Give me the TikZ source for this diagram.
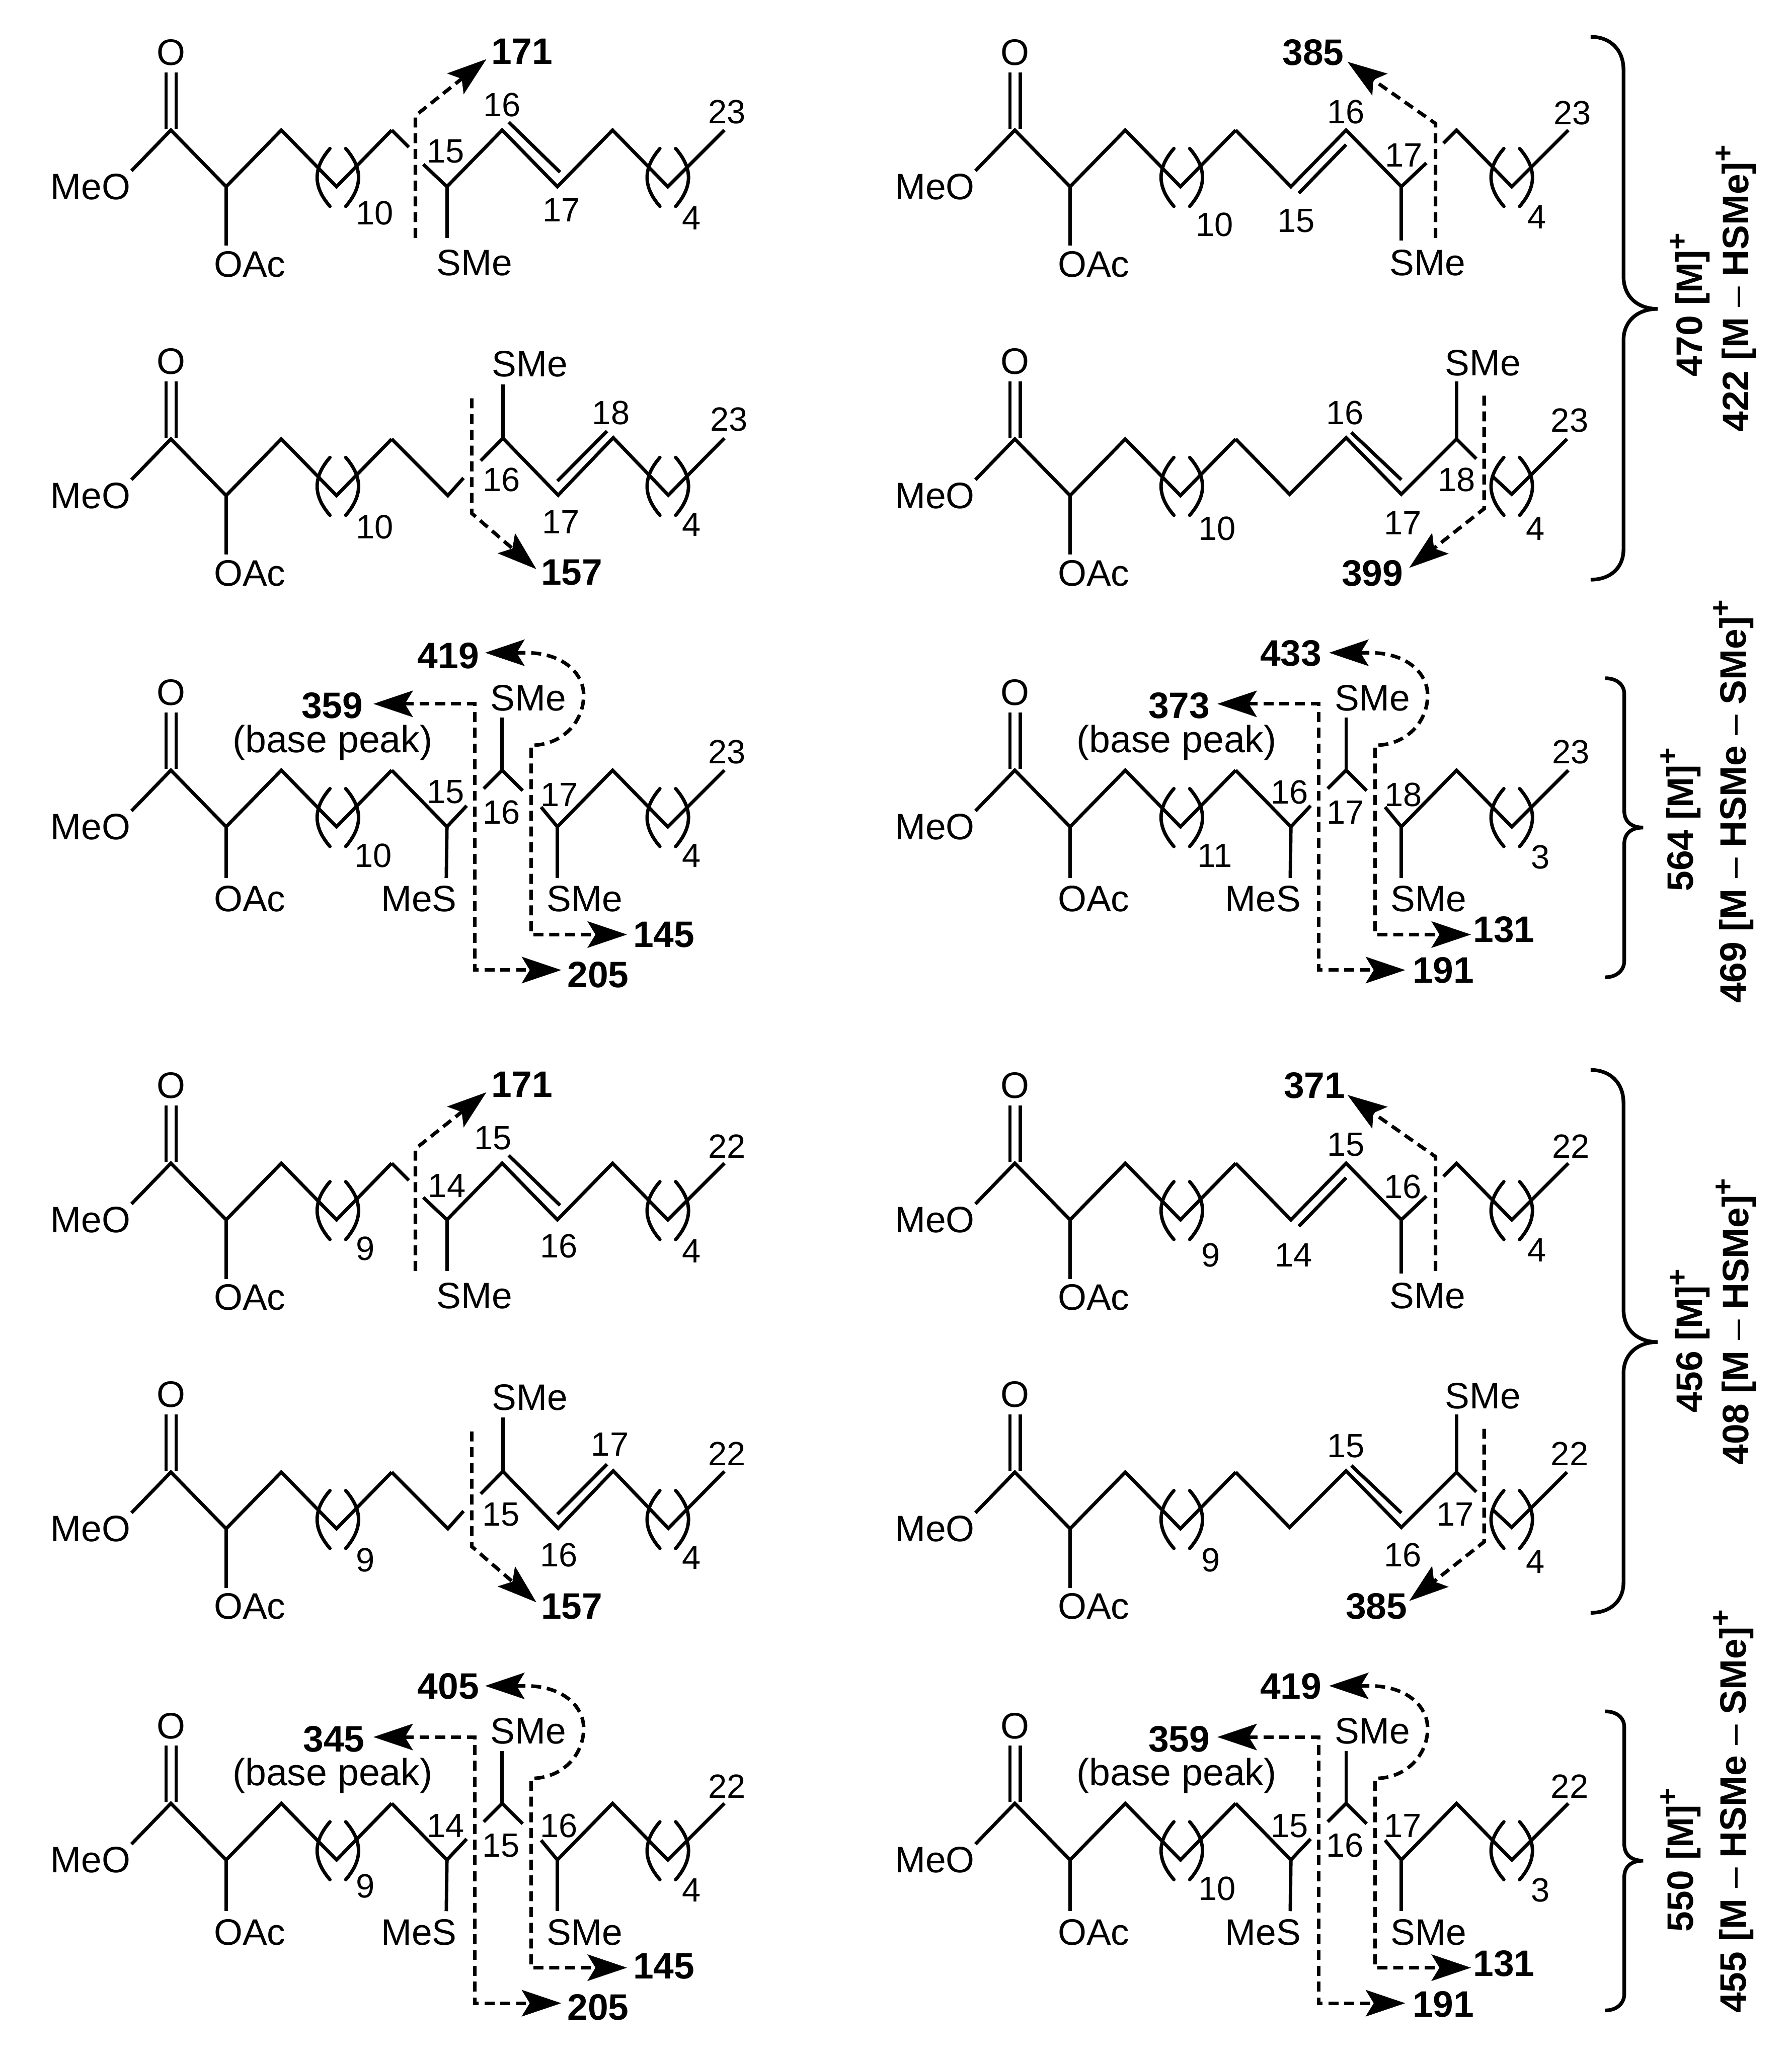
\documentclass[tikz,border=0pt]{standalone}
\usepackage{fontspec}
\setmainfont{Liberation Sans}
\usetikzlibrary{arrows.meta}
\newcounter{nn}
\newcommand\lab[4]{\stepcounter{nn}\node[#1] (n\arabic{nn}) at (#2,#3) {#4};}
\newcommand\brk[1]{\draw[bond,line cap=round] (#1-6,113) .. controls (#1-19,128) and (#1-19,142) .. (#1-6,157);
 \draw[bond,line cap=round] (#1+6,113) .. controls (#1+19,128) and (#1+19,142) .. (#1+6,157);}
% common part: #1 end of OAc bond, #2 height of OAc text
\newcommand\base[2]{%
 \lab{lbl}{130}{40}{O}
 \lab{lbl}{69}{142}{MeO}
 \lab{lbl}{190}{#2}{OAc}
 \draw[bond] (126.3,55) -- (126.3,98);
 \draw[bond] (134,55) -- (134,98);
 \draw[bond] (100,130) -- (130,99) -- (172,142) -- (214,99) -- (256,142) -- (298,99);
 \draw[bond] (172,142) -- (172,#1);
 \brk{257}\brk{508}}
\newcommand\skelA{%
 \draw[bond] (298,99) -- (311,112);
 \draw[bond] (322,125) -- (340,142) -- (382,99) -- (424,142) -- (466,99) -- (508,142) -- (551,99);
 \draw[bond] (387,93) -- (426,131);
 \draw[bond] (340,142) -- (340,181);
 \draw[dsh,-{Stealth[length=15pt,width=10pt,inset=3pt]}] (316,181) -- (316,88) -- (370,45);}
\newcommand\skelB{%
 \draw[bond] (298,99) -- (340,142) -- (382,99) -- (424,142) -- (443,124);
 \draw[bond] (456,109) -- (466,99) -- (508,142) -- (551,99);
 \draw[bond] (346,147) -- (382,110);
 \draw[bond] (424,142) -- (424,183);
 \draw[dsh,-{Stealth[length=15pt,width=10pt,inset=3pt]}] (450,181) -- (450,94) -- (383,47);}
\newcommand\skelC{%
 \draw[bond] (298,99) -- (340.7,142) -- (352.6,128.6);
 \draw[bond] (365.7,115.5) -- (382.6,98.4) -- (424.6,141.7) -- (466.5,98) -- (508.4,141.7) -- (551,98.4);
 \draw[bond] (424,131) -- (461.8,93);
 \draw[bond] (382.6,98.4) -- (382.6,57.4);
 \draw[dsh,-{Stealth[length=15pt,width=10pt,inset=3pt]}] (358.8,68) -- (358.8,155.5) -- (408,198);}
\newcommand\skelD{%
 \draw[bond] (298,99) -- (339,141) -- (382,98) -- (424,141) -- (466,99) -- (481,114);
 \draw[bond] (494,128) -- (508,141) -- (550,99);
 \draw[bond] (386,94) -- (424,130);
 \draw[bond] (466,99) -- (466,55);
 \draw[dsh,-{Stealth[length=15pt,width=10pt,inset=3pt]}] (487,66) -- (487,152) -- (430,197);}
\newcommand\skelE{%
 \draw[bond] (298,99) -- (340,142) -- (355,126);
 \draw[bond] (368,113) -- (382,99) -- (397.6,114.5);
 \draw[bond] (411.6,127) -- (424,142) -- (466,99) -- (508,142) -- (551,99);
 \draw[bond] (382,99) -- (382,59);
 \draw[bond] (340,142) -- (339.5,181);
 \draw[bond] (424,142) -- (424,181);
 \draw[dsh,{Stealth[length=15pt,width=10pt,inset=3pt]}-{Stealth[length=15pt,width=10pt,inset=3pt]}] (284,48.5) -- (361,48.5) -- (361,251) -- (427,251);
 \draw[dsh,{Stealth[length=15pt,width=10pt,inset=3pt]}-{Stealth[length=15pt,width=10pt,inset=3pt]}] (369,9.6) -- (400,9.6) .. controls (428,9.6) and (444,25) .. (444,42) .. controls (444,62) and (428,80) .. (404,80) -- (404,224) -- (477,224);
 \lab{lbl}{402}{44}{SMe}
 \lab{lbl}{318.7}{197}{MeS}
 \lab{lbl}{444.7}{197}{SMe}
 \lab{basepk}{253}{78}{(base peak)}}
\newcommand\braceL{\draw[brc] (1210,28) .. controls (1225,28) and (1235,38) .. (1235,53) -- (1235,210) .. controls (1235,226) and (1246,235) .. (1261,235) .. controls (1246,235) and (1235,244) .. (1235,259) -- (1235,418) .. controls (1235,432) and (1225,441) .. (1210,441);}
\newcommand\braceS{\draw[brc] (1221,516) .. controls (1230,516) and (1235.6,521) .. (1235.6,528) -- (1235.6,617) .. controls (1235.6,625) and (1241,629.6) .. (1250,629.6) .. controls (1241,629.6) and (1235.6,634) .. (1235.6,642) -- (1235.6,731) .. controls (1235.6,738) and (1230,743.5) .. (1221,743.5);}
\newcommand\pl{\raisebox{.42em}{\fontsize{11}{11}\selectfont +}}
\newcommand\nd{{\mdseries –}}
\begin{document}
\begin{tikzpicture}[x=.5pt,y=-.5pt,
 bond/.style={line width=1.3pt,line cap=butt,line join=miter},
 dsh/.style={line width=1.35pt,dash pattern=on 3.8pt off 2.2pt,line join=miter},
 brc/.style={line width=1.4pt},
 lbl/.style={inner sep=0pt,font=\fontsize{14}{16}\selectfont},
 basepk/.style={inner sep=0pt,font=\fontsize{14.4}{16}\selectfont},
 num/.style={inner sep=0pt,font=\fontsize{12.8}{15}\selectfont},
 ion/.style={inner sep=0pt,font=\fontsize{14}{16}\selectfont\bfseries},
 side/.style={inner sep=0pt,rotate=90,anchor=base west,font=\fontsize{14}{16}\selectfont\bfseries}]
\useasboundingbox (0,0) rectangle (1363,1568);
% row 1 left
\begin{scope}
 \base{187}{201}\skelA
 \lab{num}{339}{115}{15}\lab{num}{382}{80}{16}\lab{num}{427}{160}{17}\lab{num}{553}{85}{23}
 \lab{num}{285}{162}{10}\lab{num}{526}{166}{4}
 \lab{lbl}{361}{200}{SMe}\lab{ion}{397}{39}{171}
\end{scope}
% row 1 right
\begin{scope}[shift={(642,0)}]
 \base{187}{201}\skelB
 \lab{num}{344}{168}{15}\lab{num}{382}{85}{16}\lab{num}{426}{118}{17}\lab{num}{554}{86}{23}
 \lab{num}{282}{171}{10}\lab{num}{527}{165}{4}
 \lab{lbl}{444}{200}{SMe}\lab{ion}{357}{40}{385}
\end{scope}
% row 2 left
\begin{scope}[shift={(0,235)}]
 \base{187}{201}\skelC
 \lab{num}{381.6}{130}{16}\lab{num}{426.7}{162}{17}\lab{num}{464.8}{79}{18}\lab{num}{554.4}{84}{23}
 \lab{num}{285}{166}{10}\lab{num}{526}{164}{4}
 \lab{lbl}{403}{42}{SMe}\lab{ion}{435}{200.6}{157}
\end{scope}
% row 2 right
\begin{scope}[shift={(642,235)}]
 \base{187}{201}\skelD
 \lab{num}{381}{79}{16}\lab{num}{425}{163}{17}\lab{num}{466}{130}{18}\lab{num}{552}{85}{23}
 \lab{num}{284}{167}{10}\lab{num}{526}{167}{4}
 \lab{lbl}{486}{41}{SMe}\lab{ion}{402}{201}{399}
\end{scope}
% row 3 left
\begin{scope}[shift={(0,487)}]
 \base{181}{197}\skelE
 \lab{num}{339}{115.6}{15}\lab{num}{381.6}{131}{16}\lab{num}{425.6}{117.5}{17}\lab{num}{553}{85}{23}
 \lab{num}{284}{164}{10}\lab{num}{526}{164}{4}
 \lab{ion}{341}{12}{419}\lab{ion}{252.7}{50}{359}\lab{ion}{505}{224}{145}\lab{ion}{455}{254.6}{205}
\end{scope}
% row 3 right
\begin{scope}[shift={(642,487)}]
 \base{181}{197}\skelE
 \lab{num}{339}{115.6}{16}\lab{num}{381.6}{131}{17}\lab{num}{425.6}{117.5}{18}\lab{num}{553}{85}{23}
 \lab{num}{282}{164}{11}\lab{num}{530}{165}{3}
 \lab{ion}{340}{10}{433}\lab{ion}{255}{50}{373}\lab{ion}{502}{220}{131}\lab{ion}{456}{251}{191}
\end{scope}
% row 4 left
\begin{scope}[shift={(0,786)}]
 \base{187}{201}\skelA
 \lab{num}{340}{116}{14}\lab{num}{375}{80}{15}\lab{num}{425}{162}{16}\lab{num}{553}{86}{22}
 \lab{num}{278}{164}{9}\lab{num}{526}{166}{4}
 \lab{lbl}{361}{200}{SMe}\lab{ion}{397}{39}{171}
\end{scope}
% row 4 right
\begin{scope}[shift={(642,786)}]
 \base{187}{201}\skelB
 \lab{num}{342}{169}{14}\lab{num}{382}{85}{15}\lab{num}{425}{117}{16}\lab{num}{553}{86}{22}
 \lab{num}{279}{169}{9}\lab{num}{527}{165}{4}
 \lab{lbl}{444}{200}{SMe}\lab{ion}{358}{40}{371}
\end{scope}
% row 5 left
\begin{scope}[shift={(0,1021)}]
 \base{187}{201}\skelC
 \lab{num}{381}{131}{15}\lab{num}{425}{162}{16}\lab{num}{464}{78}{17}\lab{num}{553}{85}{22}
 \lab{num}{278}{166}{9}\lab{num}{526}{164}{4}
 \lab{lbl}{403}{42}{SMe}\lab{ion}{435}{201}{157}
\end{scope}
% row 5 right
\begin{scope}[shift={(642,1021)}]
 \base{187}{201}\skelD
 \lab{num}{382}{79}{15}\lab{num}{425}{162}{16}\lab{num}{465}{131}{17}\lab{num}{552}{85}{22}
 \lab{num}{279}{166}{9}\lab{num}{526}{167}{4}
 \lab{lbl}{486}{41}{SMe}\lab{ion}{405}{201}{385}
\end{scope}
% row 6 left
\begin{scope}[shift={(0,1273)}]
 \base{181}{197}\skelE
 \lab{num}{339}{116}{14}\lab{num}{381}{131}{15}\lab{num}{425}{116}{16}\lab{num}{553}{86}{22}
 \lab{num}{278}{162}{9}\lab{num}{526}{165}{4}
 \lab{ion}{341}{10}{405}\lab{ion}{254}{50}{345}\lab{ion}{505}{223}{145}\lab{ion}{455}{254}{205}
\end{scope}
% row 6 right
\begin{scope}[shift={(642,1273)}]
 \base{181}{197}\skelE
 \lab{num}{339}{116}{15}\lab{num}{381}{131}{16}\lab{num}{425}{116}{17}\lab{num}{552}{86}{22}
 \lab{num}{284}{164}{10}\lab{num}{530}{165}{3}
 \lab{ion}{340}{10}{419}\lab{ion}{255}{50}{359}\lab{ion}{502}{221}{131}\lab{ion}{456}{252}{191}
\end{scope}
% braces
\braceL\braceS
\begin{scope}[shift={(0,786)}]\braceL\braceS\end{scope}
% side labels
\lab{side}{1295}{287}{470 [M]\pl}
\lab{side}{1330}{329}{422 [M \nd{} HSMe]\pl}
\lab{side}{1288}{678.6}{564 [M]\pl}
\lab{side}{1328}{763.6}{469 [M \nd{} HSMe \nd{} SMe]\pl}
\lab{side}{1295}{1075}{456 [M]\pl}
\lab{side}{1330}{1115}{408 [M \nd{} HSMe]\pl}
\lab{side}{1288}{1470}{550 [M]\pl}
\lab{side}{1328}{1532}{455 [M \nd{} HSMe \nd{} SMe]\pl}
\end{tikzpicture}
\end{document}
